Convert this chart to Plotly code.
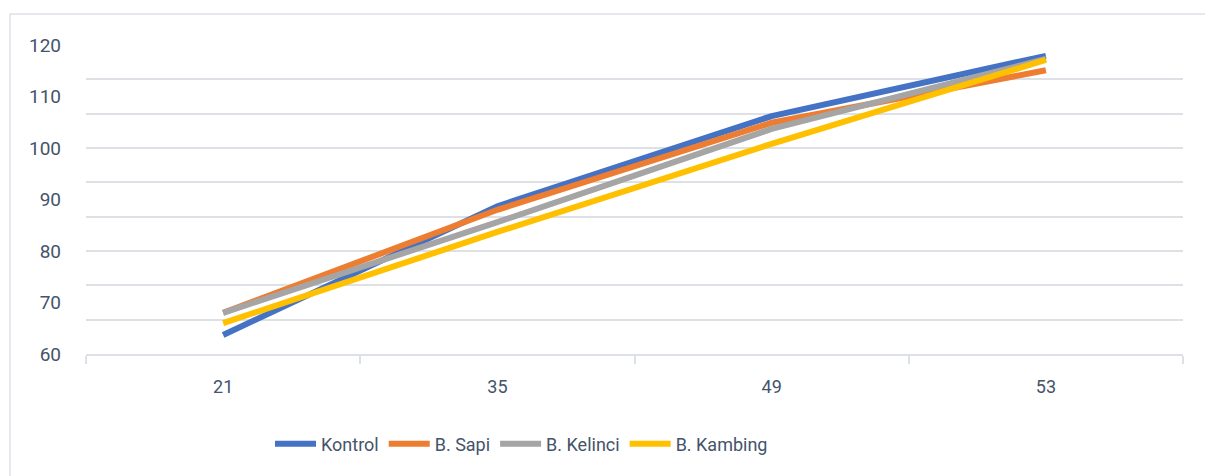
import plotly.graph_objects as go

# Days after planting
days = ["21", "35", "49", "53"]

# Plant height per treatment
kontrol = [63.7, 88.7, 106.2, 117.9]
b_sapi = [68.0, 88.0, 104.9, 115.1]
b_kelinci = [68.0, 85.6, 103.7, 117.3]
b_kambing = [66.0, 83.7, 100.8, 117.1]

y_ticks = [60, 70, 80, 90, 100, 110, 120]

series = [
    ("Kontrol", kontrol, "#4472C4"),
    ("B. Sapi", b_sapi, "#ED7D31"),
    ("B. Kelinci", b_kelinci, "#A5A5A5"),
    ("B. Kambing", b_kambing, "#FFC000"),
]

text_color = "#44546A"
grid_color = "#DDE1E6"
font_family = "Roboto, Open Sans, sans-serif"

fig = go.Figure()
for name, values, color in series:
    fig.add_trace(go.Scatter(
        x=days, y=values, name=name, mode="lines",
        line=dict(color=color, width=6),
    ))

W, H = 1205, 476
L, R, T, B = 86, 22, 45, 122
pw, ph = W - L - R, H - T - B

def px_x(p):
    return (p - L) / pw

def px_y(p):
    return (H - B - p) / ph

# outer chart border
fig.add_shape(
    type="rect", xref="paper", yref="paper",
    x0=px_x(10), x1=px_x(W + 20), y0=px_y(H + 20), y1=px_y(14),
    line=dict(color=grid_color, width=1.5), fillcolor="rgba(0,0,0,0)",
    layer="below",
)

fig.update_layout(
    width=W, height=H,
    margin=dict(l=L, r=R, t=T, b=B),
    paper_bgcolor="white", plot_bgcolor="white",
    font=dict(family=font_family, color=text_color, size=18),
    showlegend=True,
    legend=dict(
        orientation="h", x=px_x(270), xanchor="left", y=px_y(444), yanchor="middle",
        font=dict(size=18, color=text_color), itemwidth=41,
        bgcolor="rgba(0,0,0,0)", tracegroupgap=0,
    ),
    xaxis=dict(
        type="category", range=[-0.5, 3.5],
        showline=True, linecolor=grid_color, linewidth=1.5,
        ticks="outside", tickson="boundaries", ticklen=8,
        tickcolor=grid_color, tickwidth=1.5,
        showgrid=False, zeroline=False,
        ticklabelstandoff=16,
        tickfont=dict(size=18, color=text_color),
    ),
    yaxis=dict(
        range=[60, 120.001],
        tickmode="array", tickvals=y_ticks,
        showgrid=False, zeroline=False, showline=False,
        ticks="", ticklabelstandoff=24,
        tickfont=dict(size=19, color=text_color),
        minor=dict(tick0=60, dtick=20 / 3, showgrid=True,
                   gridcolor=grid_color, gridwidth=1.5, ticks=""),
    ),
)

fig.write_html("out.html")
